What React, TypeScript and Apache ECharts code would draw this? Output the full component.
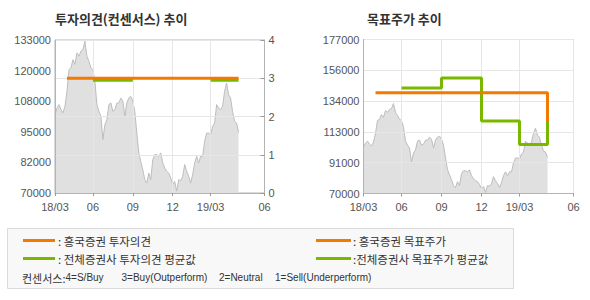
import React, { useEffect, useRef } from 'react';
import * as echarts from 'echarts';

// Period index (roughly two trading days per step), Mar 2018 -> Jun 2019
const periods: string[] = Array.from({ length: 106 }, (_, i) => String(i));
const xTickIndex = [0, 19, 39, 59, 78, 105];
const xTickLabels = ['18/03', '06', '09', '12', '19/03', '06'];

// Stock price (won)
const price = [
  102300, 105000, 106400, 104300, 103000, 105700, 111900, 120800, 121500, 124900,
  122900, 127700, 126300, 128400, 129000, 132500, 126300, 124200, 121500, 120800,
  116000, 106400, 103600, 101600, 92000, 98100, 100200, 106400, 107100, 103600,
  104300, 107000, 107100, 109100, 107800, 101600, 107100, 109100, 109800, 107800,
  103600, 94700, 86500, 83000, 79600, 75500, 74100, 78200, 75500, 83700,
  85800, 85800, 85100, 86500, 82400, 80300, 78900, 78200, 76200, 73400,
  74800, 70800, 75500, 75000, 76900, 81700, 78900, 76900, 74100, 77600,
  82400, 85100, 82400, 85100, 85100, 91300, 94700, 94700, 94000, 97500,
  98800, 106400, 105000, 104300, 105700, 111900, 115300, 110500, 109100, 103600,
  99500, 98800, 95000,
];

const leftPriceLabels = ['70000', '82000', '95000', '108000', '120000', '133000'];
const opinionLabels = ['0', '1', '2', '3', '4'];
const rightPriceLabels = ['70000', '91000', '113000', '134000', '156000', '177000'];

// Opinion (consensus scale 1-4)
const hkOpinion = [[6, 3], [92, 3]];
const avgOpinionA = [[19, 2.95], [39, 2.95]];
const avgOpinionB = [[78, 2.95], [92, 2.95]];

// Target prices
const hkTarget = [[6, 140000], [92, 140000], [92, 120000]];
const avgTarget = [
  [19, 143300], [39, 143300], [39, 150300], [59, 150300], [59, 120400],
  [78, 120400], [78, 104000], [92, 104000], [92, 137000],
];

const legendNames = [': 흥국증권 투자의견', ': 전체증권사 투자의견 평균값', ': 흥국증권 목표주가', ':전체증권사 목표주가 평균값'];
const consensusNotes = ['4=S/Buy', '3=Buy(Outperform)', '2=Neutral', '1=Sell(Underperform)'];

const FONT = '"Liberation Sans", "Noto Sans CJK KR", sans-serif';
const KFONT = '"Noto Sans CJK KR", "Liberation Sans", sans-serif';
const ORANGE = '#f27a00';
const GREEN = '#7ab800';
const GRID = '#e6e6e6';
const FRAME = '#b4b4b4';
const LABEL = '#555555';

const tickFn = (i: number) => xTickIndex.includes(i);

function xAxis(gridIndex: number) {
  return {
    type: 'category',
    gridIndex,
    data: periods,
    boundaryGap: false,
    z: 3,
    axisLine: { show: true, lineStyle: { color: FRAME } },
    axisTick: { show: true, interval: tickFn, length: 3, lineStyle: { color: '#999' } },
    axisLabel: {
      interval: tickFn,
      formatter: (v: string) => xTickLabels[xTickIndex.indexOf(Number(v))] ?? '',
      color: LABEL,
      fontSize: 11,
      fontFamily: FONT,
      margin: 8,
    },
    splitLine: { show: true, interval: tickFn, lineStyle: { color: GRID } },
  };
}

export default function App() {
  const ref = useRef<HTMLDivElement>(null);
  useEffect(() => {
    if (!ref.current) return;
    const chart = echarts.init(ref.current, undefined, { renderer: 'svg' });
    const legendText = (text: string, x: number, y: number) => ({
      type: 'text', x, y,
      style: { text, font: `11.5px ${KFONT}`, fill: '#333', verticalAlign: 'middle' },
    });
    const noteText = (text: string, x: number) => ({
      type: 'text', x, y: 277.5,
      style: { text, font: `10px ${FONT}`, fill: '#333', verticalAlign: 'middle' },
    });
    const option: any = {
      animation: false,
      backgroundColor: '#ffffff',
      grid: [
        { left: 55, top: 40, width: 209.5, height: 153, show: true, borderColor: FRAME, borderWidth: 1 },
        { left: 363.5, top: 39.5, width: 210, height: 154, show: true, borderColor: FRAME, borderWidth: 1 },
      ],
      xAxis: [xAxis(0), xAxis(1)],
      yAxis: [
        {
          type: 'value', gridIndex: 0, position: 'left', min: 70000, max: 133000, interval: 12600, z: 3,
          axisLine: { show: true, lineStyle: { color: FRAME } }, axisTick: { show: false },
          splitLine: { show: false },
          axisLabel: {
            formatter: (v: number) => leftPriceLabels[Math.round((v - 70000) / 12600)] ?? '',
            color: LABEL, fontSize: 11, fontFamily: FONT, margin: 4,
          },
        },
        {
          type: 'value', gridIndex: 0, position: 'right', min: 0, max: 4, interval: 1, z: 3,
          axisLine: { show: true, lineStyle: { color: FRAME } },
          axisTick: { show: true, inside: true, length: 4, lineStyle: { color: '#999' } },
          splitLine: { show: true, lineStyle: { color: GRID } },
          axisLabel: {
            formatter: (v: number) => opinionLabels[Math.round(v)] ?? '',
            color: LABEL, fontSize: 11, fontFamily: FONT, margin: 4,
          },
        },
        {
          type: 'value', gridIndex: 1, position: 'left', min: 70000, max: 177000, interval: 21400, z: 3,
          axisLine: { show: true, lineStyle: { color: FRAME } }, axisTick: { show: false },
          splitLine: { show: true, lineStyle: { color: GRID } },
          axisLabel: {
            formatter: (v: number) => rightPriceLabels[Math.round((v - 70000) / 21400)] ?? '',
            color: LABEL, fontSize: 11, fontFamily: FONT, margin: 4,
          },
        },
      ],
      series: [
        {
          type: 'line', xAxisIndex: 0, yAxisIndex: 0, data: price, symbol: 'none', z: 2,
          lineStyle: { color: '#bdbdbd', width: 1 }, areaStyle: { color: '#e0e0e0', opacity: 1 },
        },
        {
          type: 'line', xAxisIndex: 1, yAxisIndex: 2, data: price, symbol: 'none', z: 2,
          lineStyle: { color: '#bdbdbd', width: 1 }, areaStyle: { color: '#e0e0e0', opacity: 1 },
        },
        { type: 'line', xAxisIndex: 0, yAxisIndex: 1, data: avgOpinionA, symbol: 'none', z: 5, lineStyle: { color: GREEN, width: 3 } },
        { type: 'line', xAxisIndex: 0, yAxisIndex: 1, data: avgOpinionB, symbol: 'none', z: 5, lineStyle: { color: GREEN, width: 3 } },
        { type: 'line', xAxisIndex: 0, yAxisIndex: 1, data: hkOpinion, symbol: 'none', z: 6, lineStyle: { color: ORANGE, width: 3 } },
        { type: 'line', xAxisIndex: 1, yAxisIndex: 2, data: avgTarget, symbol: 'none', z: 5, lineStyle: { color: GREEN, width: 3 } },
        { type: 'line', xAxisIndex: 1, yAxisIndex: 2, data: hkTarget, symbol: 'none', z: 6, lineStyle: { color: ORANGE, width: 3 } },
      ],
      graphic: [
        { type: 'text', left: 55, top: 12, style: { text: '투자의견(컨센서스) 추이', font: `bold 13px ${KFONT}`, fill: '#333' } },
        { type: 'text', left: 367, top: 12, style: { text: '목표주가 추이', font: `bold 13px ${KFONT}`, fill: '#333' } },
        { type: 'rect', shape: { x: 7.5, y: 228.5, width: 506, height: 60 }, style: { fill: '#f8f8f8', stroke: '#dadada', lineWidth: 1 } },
        { type: 'line', shape: { x1: 23, y1: 240.5, x2: 55, y2: 240.5 }, style: { stroke: ORANGE, lineWidth: 3 } },
        { type: 'line', shape: { x1: 23, y1: 258.5, x2: 55, y2: 258.5 }, style: { stroke: GREEN, lineWidth: 3 } },
        { type: 'line', shape: { x1: 316, y1: 240.5, x2: 351, y2: 240.5 }, style: { stroke: ORANGE, lineWidth: 3 } },
        { type: 'line', shape: { x1: 316, y1: 258.5, x2: 351, y2: 258.5 }, style: { stroke: GREEN, lineWidth: 3 } },
        legendText(legendNames[0], 58, 240.5),
        legendText(legendNames[1], 58, 258.5),
        legendText(legendNames[2], 353, 240.5),
        legendText(legendNames[3], 353, 258.5),
        {
          type: 'text', x: 22, y: 277.5,
          style: {
            text: '{k|컨센서스:}{l|' + consensusNotes[0] + '}',
            verticalAlign: 'middle',
            rich: {
              k: { font: `11px ${KFONT}`, fill: '#333', verticalAlign: 'middle' },
              l: { font: `10px ${FONT}`, fill: '#333', verticalAlign: 'middle' },
            },
          },
        },
        noteText(consensusNotes[1], 121.5),
        noteText(consensusNotes[2], 219),
        noteText(consensusNotes[3], 275),
      ],
    };
    chart.setOption(option);
    return () => chart.dispose();
  }, []);
  return <div ref={ref} style={{ position: 'absolute', left: 0, top: 0, width: 590, height: 300 }} />;
}
